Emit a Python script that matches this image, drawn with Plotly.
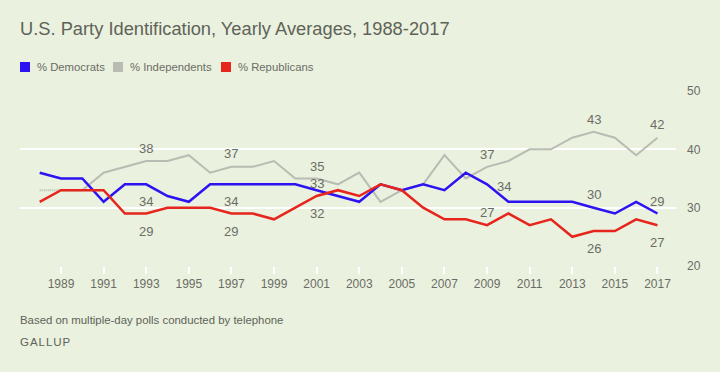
import plotly.graph_objects as go

years = list(range(1988, 2018))
democrats = [36, 35, 35, 31, 34, 34, 32, 31, 34, 34, 34, 34, 34, 33, 32, 31, 34, 33, 34, 33,
             36, 34, 31, 31, 31, 31, 30, 29, 31, 29]
independents = [33, 33, 33, 36, 37, 38, 38, 39, 36, 37, 37, 38, 35, 35, 34, 36, 31, 33, 34, 39,
                35, 37, 38, 40, 40, 42, 43, 42, 39, 42]
republicans = [31, 33, 33, 33, 29, 29, 30, 30, 30, 29, 29, 28, 30, 32, 33, 32, 34, 33, 30, 28,
               28, 27, 29, 27, 28, 25, 26, 26, 28, 27]
tick_years = list(range(1989, 2018, 2))
y_ticks = [20, 30, 40, 50]
legend_names = ["% Democrats", "% Independents", "% Republicans"]

BG = "#eaf1de"
BLUE = "#2d13f2"
GRAY = "#b9bcb3"
RED = "#e6261c"
TXT = "#6a6d66"
HEAD = "#5e6359"
FONT = "Liberation Sans, Arial, sans-serif"
colors = [BLUE, GRAY, RED]

fig = go.Figure()
# Independents: dotted first segment, then solid
fig.add_trace(go.Scatter(x=years[:2], y=independents[:2], mode="lines",
                         line=dict(color=GRAY, width=2, dash="1px,1px"), showlegend=False, hoverinfo="skip"))
fig.add_trace(go.Scatter(x=years[1:], y=independents[1:], mode="lines", name=legend_names[1],
                         line=dict(color=GRAY, width=2), showlegend=False))
fig.add_trace(go.Scatter(x=years, y=democrats, mode="lines", name=legend_names[0],
                         line=dict(color=BLUE, width=2.5), showlegend=False))
fig.add_trace(go.Scatter(x=years, y=republicans, mode="lines", name=legend_names[2],
                         line=dict(color=RED, width=2.5), showlegend=False))

# custom legend (swatch + label), positioned in pixels from the plot's top-left
legend_px = [0, 93, 201]
for name, col, px in zip(legend_names, colors, legend_px):
    fig.add_shape(type="rect", xref="paper", yref="paper", xsizemode="pixel", ysizemode="pixel",
                  xanchor=0, yanchor=1, x0=px, x1=px + 10, y0=19, y1=29,
                  fillcolor=col, line=dict(width=0))
    fig.add_annotation(x=0, y=1, xref="paper", yref="paper", xshift=px + 15, yshift=24,
                       xanchor="left", yanchor="middle", showarrow=False, text=name,
                       font=dict(size=11.3, color=TXT, family=FONT))

# value labels: (year, series, xshift, yshift)
series = {"d": democrats, "i": independents, "r": republicans}
labels = [
    (1993, "i", 0, 13), (1993, "d", 0, -17), (1993, "r", 0, -18),
    (1997, "i", 0, 13), (1997, "d", 0, -17), (1997, "r", 0, -18),
    (2001, "i", 0, 12), (2001, "d", 0, 7), (2001, "r", 0, -17),
    (2009, "i", 0, 12), (2009, "d", 17, -2), (2009, "r", 0, 13),
    (2014, "i", 0, 12), (2014, "d", 0, 13), (2014, "r", 0, -17),
    (2017, "i", 0, 13), (2017, "d", 0, 12), (2017, "r", 0, -17),
]
for yr, key, xs, ys in labels:
    v = series[key][years.index(yr)]
    fig.add_annotation(x=yr, y=v, text=str(v), showarrow=False, xshift=xs, yshift=ys,
                       font=dict(size=13, color=TXT, family=FONT))

fig.add_annotation(x=0, y=1, xref="paper", yref="paper", xshift=-2, yshift=63,
                   xanchor="left", yanchor="middle", showarrow=False,
                   text="U.S. Party Identification, Yearly Averages, 1988-2017",
                   font=dict(size=18.3, color=HEAD, family=FONT))
fig.add_annotation(x=0, y=0, xref="paper", yref="paper", yshift=-54, xshift=-2,
                   xanchor="left", yanchor="middle", showarrow=False,
                   text="Based on multiple-day polls conducted by telephone",
                   font=dict(size=11.4, color=HEAD, family=FONT))
fig.add_annotation(x=0, y=0, xref="paper", yref="paper", yshift=-76, xshift=-2,
                   xanchor="left", yanchor="middle", showarrow=False,
                   text="G\u200aA\u200aL\u200aL\u200aU\u200aP",
                   font=dict(size=11.5, color=HEAD, family=FONT))

fig.update_layout(
    width=720, height=372,
    margin=dict(l=20, r=44, t=91, b=106, autoexpand=False),
    paper_bgcolor=BG, plot_bgcolor=BG,
    font=dict(family=FONT, color=TXT),
    showlegend=False,
    xaxis=dict(range=[1987.075, 2017.87], tickvals=tick_years, showgrid=False, zeroline=False,
               ticks="outside", ticklen=7, tickwidth=2, tickcolor="white",
               tickfont=dict(size=12, color=TXT), showline=False, fixedrange=True),
    yaxis=dict(range=[20, 50], tickvals=y_ticks, side="right", showgrid=True,
               gridcolor="white", gridwidth=2, zeroline=False, showline=False,
               ticklabelstandoff=10, tickfont=dict(size=12, color=TXT), fixedrange=True),
)

fig.write_html("out.html", config={"displayModeBar": False},
               post_script="document.body.style.margin='0';document.body.style.background='%s';" % BG)
